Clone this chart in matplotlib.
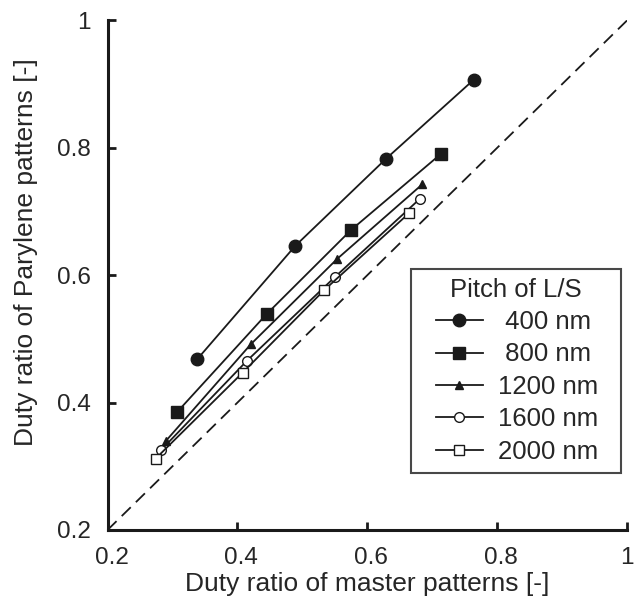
import numpy as np
import matplotlib
matplotlib.use('Agg')
import matplotlib.pyplot as plt
import matplotlib.transforms as mtransforms
from matplotlib.legend_handler import HandlerLine2D

plt.rcParams['font.family'] = ['Liberation Sans', 'DejaVu Sans']

# duty ratio of master (x) vs parylene (y) patterns
pitch_labels = ['400 nm', '800 nm', '1200 nm', '1600 nm', '2000 nm']
x_400 = [0.338, 0.489, 0.629, 0.764]
y_400 = [0.468, 0.646, 0.783, 0.907]
x_800 = [0.307, 0.445, 0.575, 0.714]
y_800 = [0.385, 0.539, 0.671, 0.791]
x_1200 = [0.290, 0.421, 0.554, 0.685]
y_1200 = [0.340, 0.492, 0.626, 0.743]
x_1600 = [0.282, 0.415, 0.550, 0.681]
y_1600 = [0.325, 0.466, 0.597, 0.720]
x_2000 = [0.274, 0.408, 0.534, 0.665]
y_2000 = [0.312, 0.447, 0.577, 0.698]

ticks = [0.2, 0.4, 0.6, 0.8, 1.0]
tick_labels = ['0.2', '0.4', '0.6', '0.8', '1']

ink = '#1a1a1a'
txt = '#262626'

fig = plt.figure(figsize=(6.37, 6.08), dpi=100)
ax = fig.add_axes([0.1688, 0.1283, 0.8155, 0.838])

# y = x reference line
ax.plot([0.2, 1.0], [0.2, 1.0], color=ink, lw=1.3, ls=(0, (7, 4)))

series = [
    (x_400, y_400, 'o', 9, ink),
    (x_800, y_800, 's', 9, ink),
    (x_1200, y_1200, '^', 6, ink),
    (x_1600, y_1600, 'o', 7, 'white'),
    (x_2000, y_2000, 's', 7, 'white'),
]
for (xs, ys, mk, ms, fc), lab in zip(series, pitch_labels):
    # shorter labels get a leading space so they sit centred like the original
    ax.plot(xs, ys, color=ink, lw=1.3, marker=mk, ms=ms, mfc=fc, mec=ink,
            mew=1.0, label=(' ' + lab if len(lab) < 7 else lab) + '  ')

ax.set_xlim(0.2, 1.0)
ax.set_ylim(0.2, 1.0)
ax.set_xticks(ticks)
ax.set_xticklabels(tick_labels)
ax.set_yticks(ticks)
ax.set_yticklabels(tick_labels)

for s in ['top', 'right']:
    ax.spines[s].set_visible(False)
for s in ['left', 'bottom']:
    ax.spines[s].set_linewidth(2.2)
    ax.spines[s].set_color(ink)
    ax.spines[s].set_capstyle('projecting')

ax.tick_params(direction='in', length=6, width=2, colors=ink,
               labelsize=17.5, labelcolor=txt)
ax.tick_params(axis='x', pad=12)
ax.tick_params(axis='y', pad=12)

# x tick labels sit a few pixels right of their ticks in the original
# (except the last one, which has to stay inside the picture)
shift = mtransforms.ScaledTranslation(4 / 100, 0, fig.dpi_scale_trans)
for lbl in ax.get_xticklabels()[:-1]:
    lbl.set_transform(lbl.get_transform() + shift)

ax.set_xlabel('Duty ratio of master patterns [-]', fontsize=19, color=txt)
ax.set_ylabel('Duty ratio of Parylene patterns [-]', fontsize=19, color=txt)
ax.xaxis.label.set_va('baseline')
ax.yaxis.label.set_va('baseline')
ax.xaxis.set_label_coords(0.5, -0.120)
ax.yaxis.set_label_coords(-0.143, 0.545)

leg = ax.legend(title='Pitch of L/S', loc='lower right',
                bbox_to_anchor=(0.9885, 0.112), fontsize=18.5,
                title_fontsize=18.5, frameon=True, fancybox=False,
                edgecolor=ink, handlelength=2.45, handletextpad=0.58,
                labelspacing=0.33, borderpad=0.35, borderaxespad=0,
                handler_map={plt.Line2D: HandlerLine2D(xpad=0.62)})
leg.get_frame().set_linewidth(1.5)
for t in leg.get_texts():
    t.set_color(txt)
leg.get_title().set_color(txt)

fig.savefig('out.png', dpi=100, facecolor='white')
